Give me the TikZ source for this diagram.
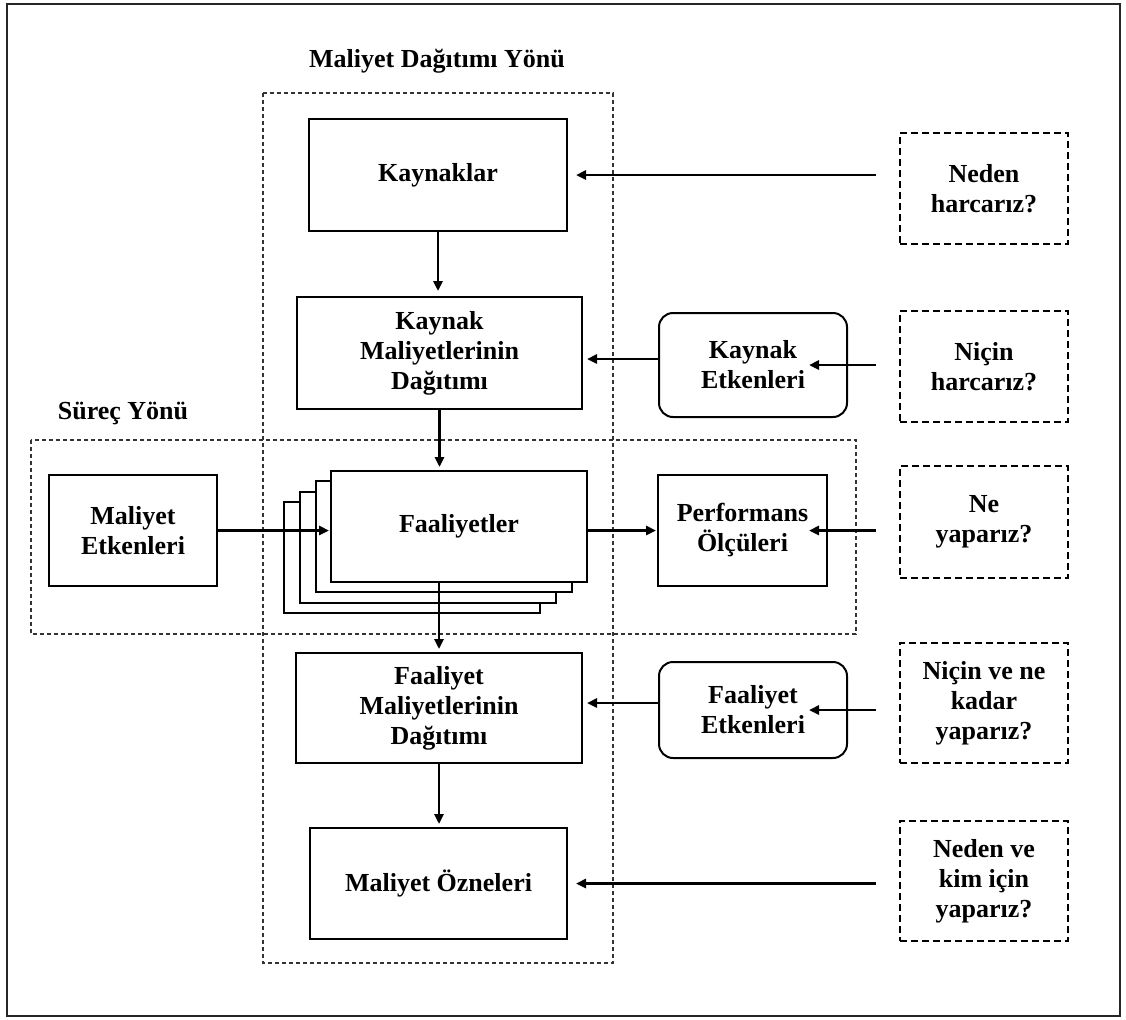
\documentclass[tikz,border=0pt]{standalone}
\usepackage{fontspec}
\setmainfont{Liberation Serif}
\usetikzlibrary{arrows.meta,calc}
\begin{document}
\begin{tikzpicture}[
  x=0.5pt, y=-0.5pt,
  every node/.style={font=\bfseries\fontsize{13}{15}\selectfont, align=center, inner sep=0pt},
  sz/.style 2 args={minimum width=#1*0.5pt, minimum height=#2*0.5pt},
  stepbox/.style={draw, line width=1pt, fill=white},
  roundbox/.style={draw, line width=1pt, rounded corners=7pt, fill=white},
  askbox/.style={draw, line width=1.1pt, dash pattern=on 3.5pt off 2pt},
  frame/.style={draw=black!80, line width=0.55pt, dash pattern=on 2pt off 1.5pt},
  arr/.style={line width=1.3pt, -{Triangle[length=5pt,width=4.5pt]}}
]
\useasboundingbox (0,0) rectangle (1126,1019);
% outer border
\draw[line width=1.1pt, black!85] (7,4) rectangle (1120,1016);

% dashed frames
\draw[frame] (263,93) rectangle (613,963);
\draw[frame] (31,440) rectangle (856,634);

% frame titles
\node[anchor=base] (ttl1) at (437,67) {Maliyet Dağıtımı Yönü};
\node[anchor=base] (ttl2) at (123,419) {Süreç Yönü};

% main column
\node[stepbox, sz={258}{112}] (kay) at (438,175) {Kaynaklar};
\node[stepbox, sz={285}{112}] (kmd) at (439.5,353) {Kaynak\\Maliyetlerinin\\Dağıtımı};

% stacked activity cards
\node[stepbox, sz={256}{111}] (faal3) at ($(459,526.5)+(-47,31)$) {};
\node[stepbox, sz={256}{111}] (faal2) at ($(459,526.5)+(-31.5,20.5)$) {};
\node[stepbox, sz={256}{111}] (faal1) at ($(459,526.5)+(-15.5,10)$) {};
\node[stepbox, sz={256}{111}] (faal) at (459,526.5) {Faaliyetler};

\node[stepbox, sz={286}{110}] (fmd) at (439,708) {Faaliyet\\Maliyetlerinin\\Dağıtımı};
\node[stepbox, sz={257}{111}] (mo) at (438.5,883.5) {Maliyet Özneleri};

% side boxes
\node[stepbox, sz={168}{111}] (me) at (133,530.5) {Maliyet\\Etkenleri};
\node[stepbox, sz={169}{111}] (perf) at (742.5,530.5) {Performans\\Ölçüleri};
\node[roundbox, sz={188}{104}] (ke) at (753,365) {Kaynak\\Etkenleri};
\node[roundbox, sz={188}{96}] (fe) at (753,710) {Faaliyet\\Etkenleri};

% questions
\node[askbox, sz={168}{111}] (q1) at (984,188.5) {Neden\\harcarız?};
\node[askbox, sz={168}{111}] (q2) at (984,366.5) {Niçin\\harcarız?};
\node[askbox, sz={168}{112}] (q3) at (984,522) {Ne\\yaparız?};
\node[askbox, sz={168}{120}] (q4) at (984,703) {Niçin ve ne\\kadar\\yaparız?};
\node[askbox, sz={168}{120}] (q5) at (984,881) {Neden ve\\kim için\\yaparız?};

% vertical flow
\draw[arr, shorten >=2.5pt] (kay.south) -- (kay.south |- kmd.north);
\draw[arr, shorten >=1.5pt] (kmd.south) -- (kmd.south |- faal.north);
\draw[arr, shorten >=1.5pt] (fmd.north |- faal.south) -- (fmd.north);
\draw[arr, shorten >=1.5pt] (fmd.south) -- (fmd.south |- mo.north);

% process direction
\draw[arr, shorten >=0.5pt] (me.east) -- (me.east -| faal.west);
\draw[arr, shorten >=0.5pt] (faal.east |- perf.west) -- (perf.west);

% drivers
\draw[arr, shorten >=2pt] ([yshift=3pt]ke.west) -- ([yshift=3pt]ke.west -| kmd.east);
\draw[arr, shorten >=2pt] ([yshift=3.5pt]fe.west) -- ([yshift=3.5pt]fe.west -| fmd.east);

% questions to boxes (the last three reach into the driver boxes)
\draw[arr, shorten <=11.5pt, shorten >=4pt] (q1.west |- kay.east) -- (kay.east);
\draw[arr, shorten <=11.5pt, shorten >=-19.5pt] (q2.west |- ke.east) -- (ke.east);
\draw[arr, shorten <=11.5pt, shorten >=-9.5pt] (q3.west |- perf.east) -- (perf.east);
\draw[arr, shorten <=11.5pt, shorten >=-19.5pt] (q4.west |- fe.east) -- (fe.east);
\draw[arr, shorten <=11.5pt, shorten >=4pt] (q5.west |- mo.east) -- (mo.east);
\end{tikzpicture}
\end{document}
